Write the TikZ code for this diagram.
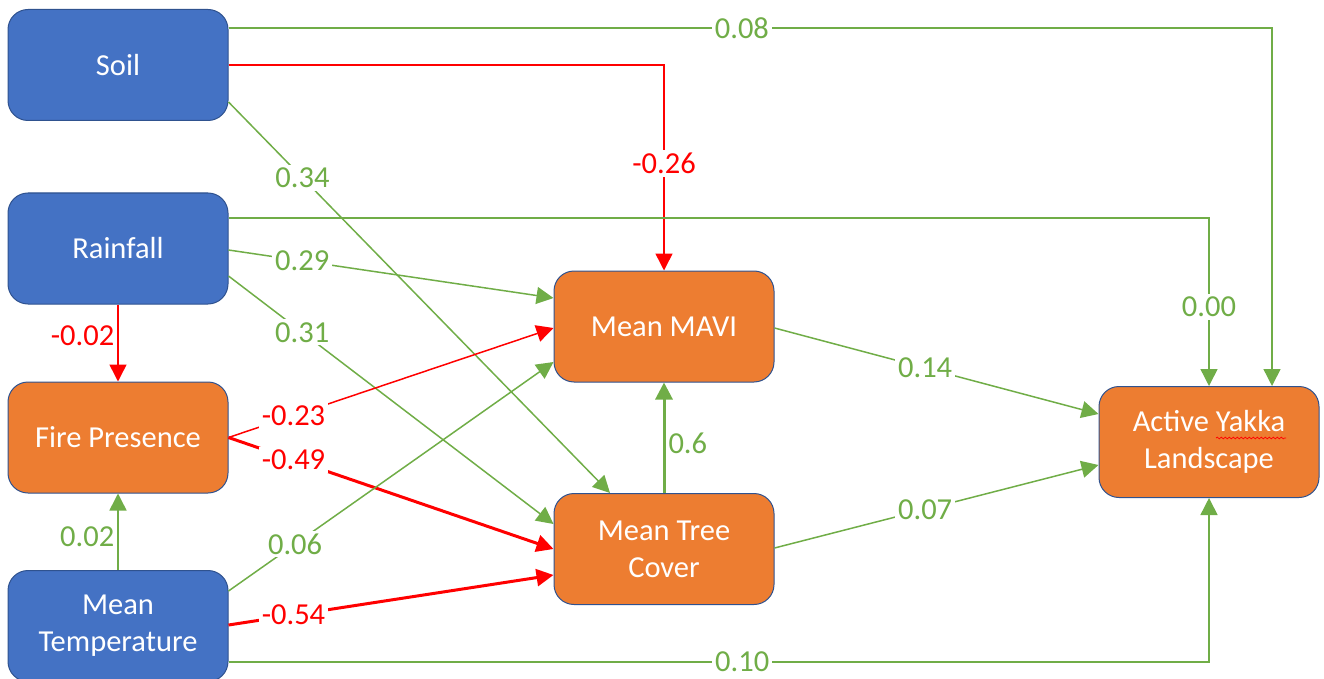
\documentclass[tikz,border=0pt]{standalone}
\usepackage{fontspec}
\setmainfont{Carlito}
\usetikzlibrary{arrows.meta,decorations.pathmorphing}
\definecolor{boxblue}{HTML}{4472C4}
\definecolor{boxorange}{HTML}{ED7D31}
\definecolor{edgeblue}{HTML}{2F528F}
\definecolor{pgreen}{HTML}{70AD47}
\definecolor{pred}{HTML}{FF0000}
\begin{document}
\begin{tikzpicture}[x=1pt,y=1pt,
  box/.style={draw=edgeblue, line width=1pt, rounded corners=20pt, minimum width=220pt, minimum height=111pt, inner sep=0pt, text=white, align=center, font=\fontsize{30.5}{37}\selectfont},
  bluebox/.style={box, fill=boxblue},
  orangebox/.style={box, fill=boxorange},
  tip/.style={-{Triangle[length=17pt,width=17pt]}},
  gedge/.style={draw=pgreen, line width=1.5pt, tip},
  gthick/.style={draw=pgreen, line width=3pt, tip},
  redge/.style={draw=pred, line width=1.5pt, tip},
  rthick/.style={draw=pred, line width=3pt, tip},
  lab/.style={fill=white, inner sep=3pt, font=\fontsize{30.5}{37}\selectfont},
  glab/.style={lab, text=pgreen},
  rlab/.style={lab, text=pred}
]
\useasboundingbox (0,0) rectangle (1324,-679);

\node[bluebox] (soil) at (118,-65) {Soil};
\node[bluebox] (rain) at (118,-248.5) {Rainfall};
\node[orangebox] (fire) at (118,-437.5) {Fire Presence};
\node[bluebox] (temp) at (118,-626) {Mean\\Temperature};
\node[orangebox] (mavi) at (664,-326.5) {Mean MAVI};
\node[orangebox] (tree) at (664,-549) {Mean Tree\\Cover};
\node[orangebox] (yakka) at (1209,-442) {Active Yakka\\Landscape};
\draw[pred, line width=0.7pt, decorate, decoration={snake, amplitude=0.9pt, segment length=4pt}]
  ([xshift=7pt,yshift=4pt]yakka.center) -- ([xshift=77pt,yshift=4pt]yakka.center);

% Soil
\draw[gedge] ([yshift=37pt]soil.east) -| node[glab, pos=0.246]{0.08} ([xshift=63pt]yakka.north);
\draw[redge] (soil.east) -| node[rlab, pos=0.74]{-0.26} (mavi.north);
\draw[gedge] ([yshift=-37pt]soil.east) -- node[glab, pos=0.194]{0.34} ([xshift=-54pt]tree.north);

% Rainfall
\draw[gedge] ([yshift=30.5pt]rain.east) -| node[glab, pos=0.765]{0.00} (yakka.north);
\draw[gedge] ([yshift=-1.5pt]rain.east) -- node[glab, pos=0.227]{0.29} ([yshift=28.5pt]mavi.west);
\draw[gedge] ([yshift=-27.5pt]rain.east) -- node[glab, pos=0.227]{0.31} ([yshift=25pt]tree.west);
\draw[redge] (rain.south) -- node[rlab, left, pos=0.4, fill=none]{-0.02} (fire.north);

% Fire
\draw[redge] (fire.east) -- node[rlab, pos=0.2]{-0.23} ([yshift=-1.5pt]mavi.west);
\draw[rthick] (fire.east) -- node[rlab, pos=0.2]{-0.49} (tree.west);

% Temperature
\draw[gedge] (temp.north) -- node[glab, left, pos=0.44, fill=none]{0.02} (fire.south);
\draw[gedge] ([yshift=35pt]temp.east) -- node[glab, pos=0.205]{0.06} ([yshift=-35.5pt]mavi.west);
\draw[rthick] ([yshift=1pt]temp.east) -- node[rlab, pos=0.2]{-0.54} ([yshift=-26pt]tree.west);
\draw[gedge] ([yshift=-36pt]temp.east) -| node[glab, pos=0.262]{0.10} (yakka.south);

% Middle
\draw[gthick] (tree.north) -- node[glab, right, pos=0.45, fill=none]{0.6} (mavi.south);
\draw[gedge] ([yshift=-1.5pt]mavi.east) -- node[glab, pos=0.465]{0.14} ([yshift=28pt]yakka.west);
\draw[gedge] ([yshift=1pt]tree.east) -- node[glab, pos=0.465]{0.07} ([yshift=-23pt]yakka.west);
\end{tikzpicture}
\end{document}
